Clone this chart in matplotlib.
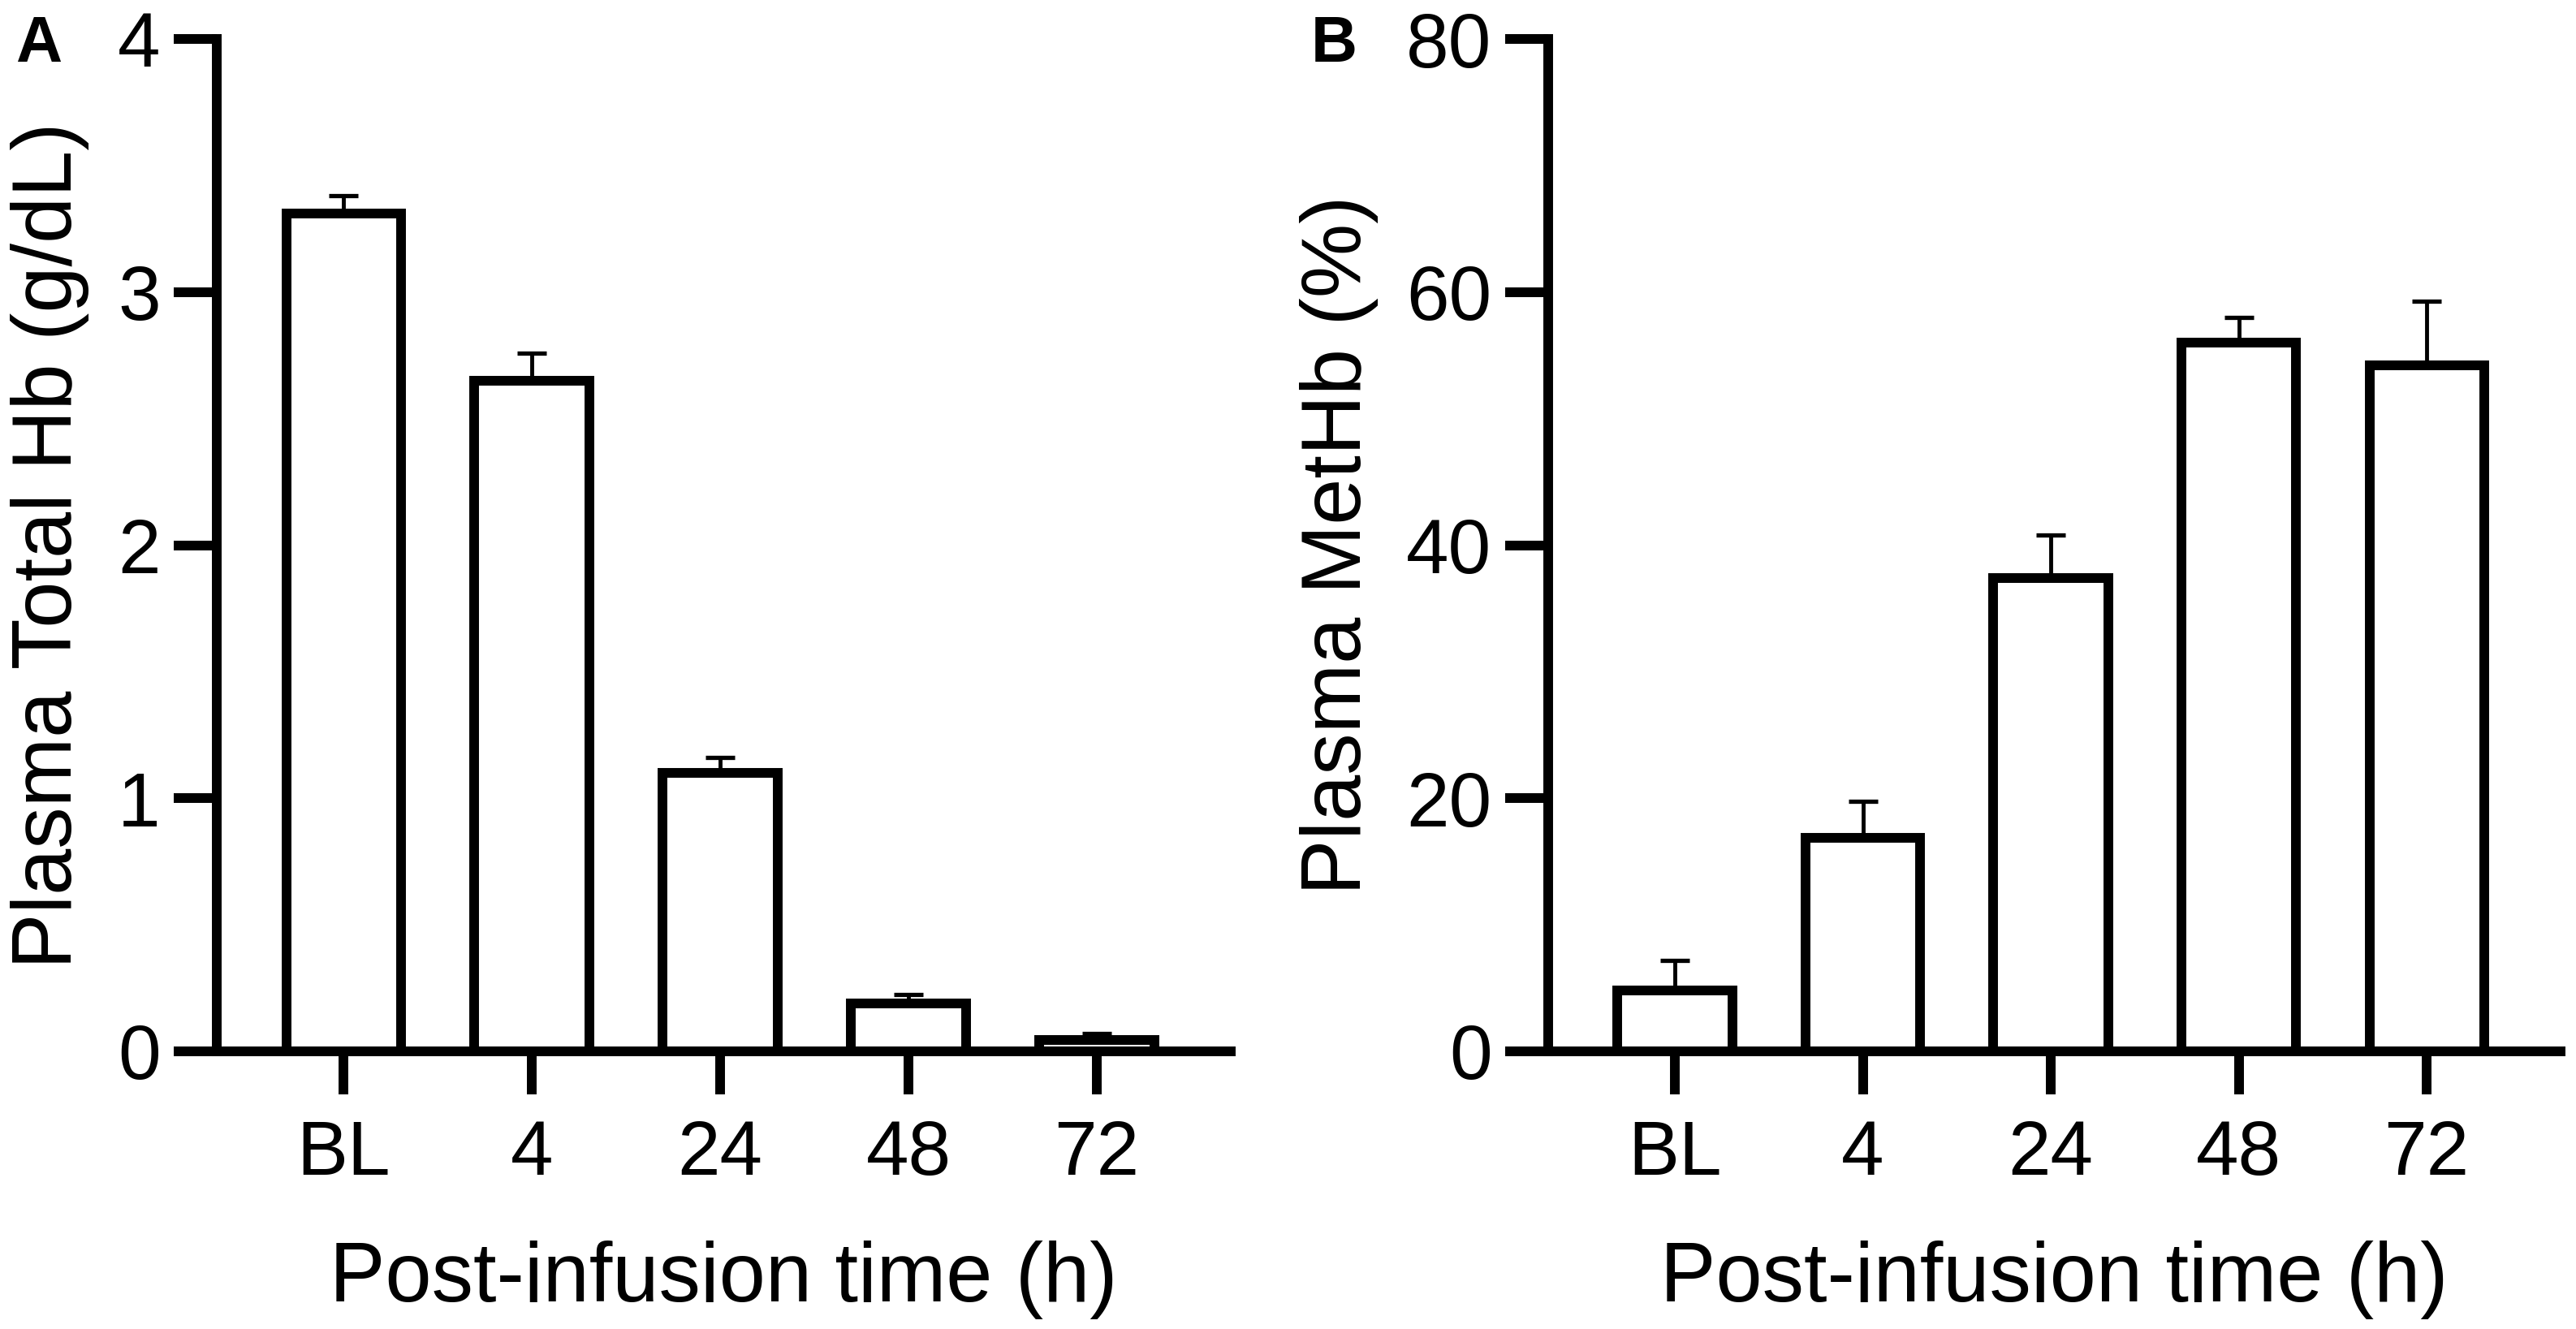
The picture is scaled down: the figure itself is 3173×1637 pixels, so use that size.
import matplotlib
matplotlib.use("Agg")
import matplotlib.pyplot as plt
import numpy as np

plt.rcParams['font.family'] = ['Liberation Sans', 'DejaVu Sans']

categories = ["BL", "4", "24", "48", "72"]
total_hb = [3.31, 2.65, 1.10, 0.19, 0.045]
total_hb_err = [0.07, 0.11, 0.06, 0.035, 0.025]
methb = [4.8, 16.9, 37.4, 56.0, 54.2]
methb_err = [2.4, 2.85, 3.4, 2.0, 5.1]

W, H = 3173, 1637
fig = plt.figure(figsize=(W / 100, H / 100), dpi=100)

lw = 8.6
tick_fs = 68
label_fs = 74

def style(ax, ymax, yticks):
    for s in ["top", "right"]:
        ax.spines[s].set_visible(False)
    for s in ["left", "bottom"]:
        ax.spines[s].set_linewidth(lw)
        ax.spines[s].set_capstyle("projecting")
    ax.set_ylim(0, ymax)
    ax.set_yticks(yticks)
    ax.set_xlim(-0.674, 4.712)
    ax.set_xticks(range(len(categories)))
    ax.set_xticklabels(categories)
    ax.tick_params(axis="both", length=38, width=lw, labelsize=tick_fs, direction="out")
    ax.tick_params(axis="y", pad=12)
    ax.tick_params(axis="x", pad=22)
    ax.set_xlabel("Post-infusion time (h)", fontsize=label_fs)
    ax.xaxis.set_label_coords(0.5, -0.1868)

def draw(ax, vals, errs):
    x = np.arange(len(vals))
    ax.bar(x, vals, width=0.61, facecolor="white", edgecolor="black", linewidth=lw, zorder=2)
    ax.errorbar(x, vals, yerr=[np.zeros(len(vals)), errs], fmt="none", ecolor="black",
                elinewidth=3.5, capsize=13.3, capthick=3.8, zorder=1)

bottom = 1 - 1295 / H
height = (1295 - 48) / H

# Panel A
axA = fig.add_axes([267 / W, bottom, (1516 - 267) / W, height])
draw(axA, total_hb, total_hb_err)
style(axA, 4, [0, 1, 2, 3, 4])
axA.set_ylabel("Plasma Total Hb (g/dL)", fontsize=label_fs)
axA.yaxis.set_label_coords(-0.1257, 0.5)

# Panel B
axB = fig.add_axes([1907 / W, bottom, (3154 - 1907) / W, height])
draw(axB, methb, methb_err)
style(axB, 80, [0, 20, 40, 60, 80])
axB.set_ylabel("Plasma MetHb (%)", fontsize=label_fs)
axB.yaxis.set_label_coords(-0.1676, 0.5)

fig.text(19 / W, 1 - 18 / H, "A", fontsize=57, fontweight="bold", va="top", ha="left")
fig.text(1615 / W, 1 - 18 / H, "B", fontsize=57, fontweight="bold", va="top", ha="left")

fig.savefig("out.png", dpi=100, facecolor="white")
